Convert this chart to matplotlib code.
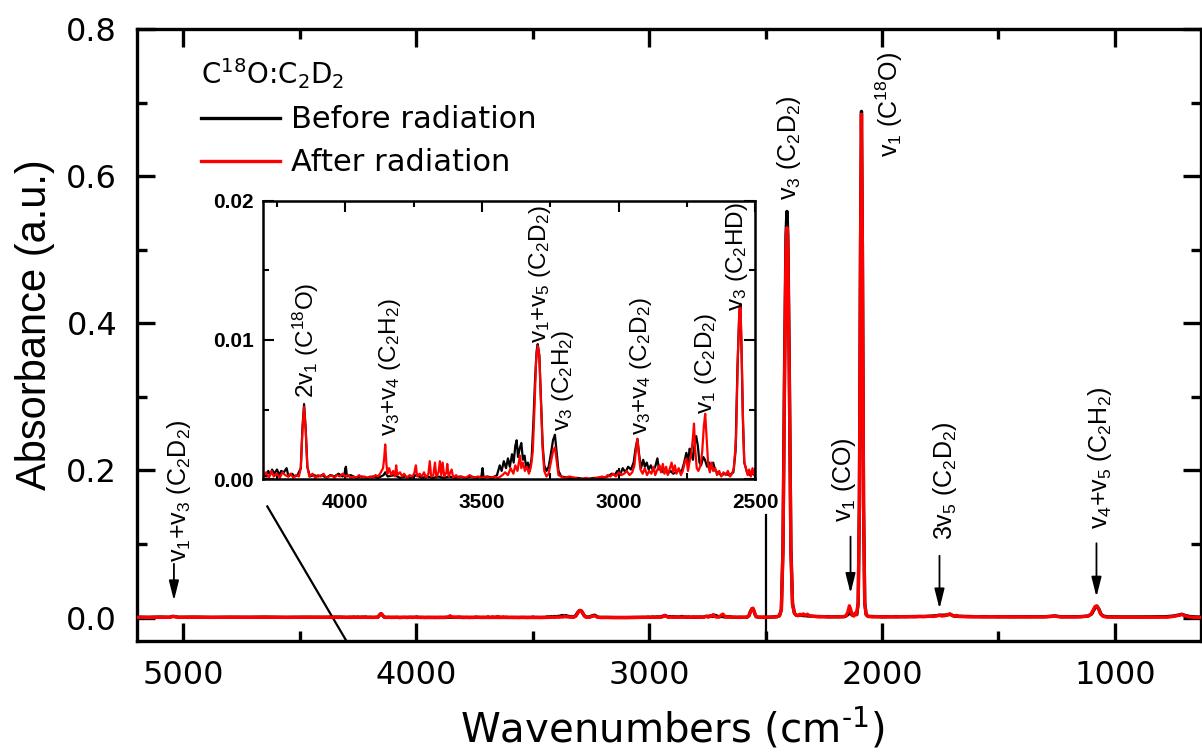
import matplotlib
matplotlib.use('Agg')
import matplotlib.pyplot as plt
from matplotlib.lines import Line2D

plt.rcParams['font.family'] = 'DejaVu Sans'
plt.rcParams['mathtext.default'] = 'regular'

# ---- spectra: (wavenumber cm-1, absorbance) ----
# before radiation (black)
before_high = [(5200, .0006), (5150, .0003), (5100, .0007), (5060, .0004), (5045, .0016),
               (5035, .0013), (5020, .0004), (4950, .0006), (4880, .0003), (4800, .0005),
               (4720, .0004), (4650, .0006), (4560, .0003), (4480, .0005), (4400, .0004),
               (4330, .0006)]
before_mid = [(4300, .0003), (4290, .0002), (4282, .0006), (4275, .0003), (4268, .0007),
              (4260, .0004), (4250, .0007), (4242, .0003), (4235, .0006), (4225, .0005),
              (4215, .0008), (4208, .0002), (4195, .0004), (4185, .0002), (4175, .0003),
              (4163, .0008), (4157, .0037), (4151, .0054), (4145, .0036), (4139, .0009),
              (4130, .0002), (4115, .0003), (4100, .0002), (4085, .0003), (4070, .0001),
              (4055, .0003), (4040, .0002), (4025, .0004), (4010, .0002), (4003, .0004),
              (3998, .0009), (3994, .0002), (3980, .0003), (3960, .0001), (3940, .0002),
              (3920, .0001), (3900, .0002), (3880, .0001), (3860, .0003), (3854, .0005),
              (3845, .0002), (3820, .0003), (3800, .0001), (3780, .0002), (3760, .0001),
              (3740, .0003), (3720, .0001), (3700, .0002), (3680, .0001), (3660, .0002),
              (3640, .0001), (3620, .0002), (3600, .0001), (3580, .0002), (3560, .0001),
              (3540, .0002), (3520, .0001), (3502, .0002), (3498, .0008), (3494, .0001),
              (3480, .0002), (3460, .0001), (3445, .0003), (3435, .0010), (3428, .0006),
              (3420, .0013), (3412, .0008), (3405, .0015), (3398, .0009), (3390, .0018),
              (3384, .0012), (3378, .0024), (3373, .0028), (3368, .0016), (3362, .0022),
              (3356, .0026), (3350, .0014), (3344, .0017), (3338, .0008), (3332, .0012),
              (3325, .0006), (3318, .0016), (3312, .0040), (3306, .0070), (3300, .0092),
              (3296, .0097), (3290, .0089), (3284, .0058), (3278, .0025), (3272, .0010),
              (3264, .0006), (3256, .0009), (3248, .0018), (3240, .0028), (3233, .0032),
              (3227, .0020), (3220, .0006), (3210, .0002), (3180, .0001), (3150, .0001),
              (3120, .0000), (3090, .0001), (3060, .0001), (3040, .0002), (3025, .0004),
              (3014, .0003), (3005, .0006), (2995, .0003), (2985, .0008), (2975, .0005),
              (2965, .0009), (2955, .0007), (2945, .0012), (2938, .0022), (2931, .0029),
              (2925, .0018), (2918, .0008), (2910, .0014), (2904, .0009), (2897, .0012),
              (2890, .0007), (2882, .0010), (2874, .0006), (2866, .0009), (2858, .0015),
              (2852, .0007), (2845, .0008), (2836, .0005), (2828, .0007), (2820, .0004),
              (2810, .0006), (2800, .0004), (2790, .0005), (2780, .0007), (2770, .0005),
              (2760, .0012), (2752, .0019), (2746, .0012), (2740, .0022), (2734, .0019),
              (2728, .0014), (2722, .0025), (2716, .0031), (2710, .0024), (2704, .0012),
              (2698, .0010), (2690, .0016), (2684, .0014), (2676, .0009), (2668, .0012),
              (2660, .0008), (2654, .0012), (2646, .0006), (2638, .0005), (2625, .0003),
              (2610, .0004), (2595, .0003), (2580, .0005), (2572, .0020), (2565, .0080),
              (2558, .0120), (2554, .0124), (2550, .0092), (2545, .0042), (2540, .0012),
              (2530, .0005), (2520, .0003), (2510, .0004), (2500, .0003)]
before_low = [(2490, .0005), (2470, .0007), (2450, .0012), (2440, .0026), (2432, .011),
              (2425, .095), (2418, .345), (2412, .52), (2408, .552), (2404, .52),
              (2398, .345), (2391, .095), (2384, .019), (2376, .006), (2368, .003),
              (2350, .003), (2330, .0025), (2310, .002), (2280, .0015), (2250, .0012),
              (2220, .001), (2190, .0011), (2160, .0012), (2146, .004), (2140, .008),
              (2134, .005), (2125, .003), (2114, .006), (2108, .004), (2102, .02),
              (2097, .152), (2092, .505), (2088, .688), (2084, .505), (2079, .152),
              (2074, .02), (2068, .004), (2060, .0016), (2000, .001), (1900, .0012),
              (1800, .0016), (1752, .003), (1718, .0035), (1708, .0045), (1690, .002),
              (1600, .0012), (1500, .001), (1400, .001), (1300, .0011), (1258, .0022),
              (1230, .001), (1150, .0012), (1115, .002), (1100, .0048), (1090, .0105),
              (1082, .0145), (1076, .0152), (1068, .011), (1060, .005), (1050, .002),
              (1030, .001), (950, .0008), (850, .0009), (780, .0012), (750, .002),
              (725, .0035), (712, .0045), (700, .003), (680, .0015), (650, .0008),
              (630, .0006)]

# after radiation (red)
after_high = [(5200, .0004), (5150, .0002), (5100, .0005), (5060, .0003), (5045, .0015),
              (5035, .0012), (5020, .0003), (4950, .0005), (4880, .0002), (4800, .0004),
              (4720, .0003), (4650, .0005), (4560, .0002), (4480, .0004), (4400, .0003),
              (4330, .0005)]
after_mid = [(4300, .0002), (4290, .0005), (4280, .0001), (4270, .0006), (4262, .0002),
             (4250, .0004), (4240, .0001), (4230, .0005), (4220, .0003), (4210, .0002),
             (4200, .0004), (4190, .0001), (4180, .0003), (4170, .0002), (4163, .0008),
             (4157, .0035), (4151, .0052), (4145, .0035), (4139, .0009), (4132, .0002),
             (4120, .0004), (4110, .0001), (4100, .0003), (4090, .0002), (4080, .0004),
             (4070, .0001), (4060, .0002), (4050, .0003), (4040, .0001), (4030, .0003),
             (4020, .0002), (4010, .0004), (4000, .0002), (3990, .0003), (3980, .0001),
             (3970, .0002), (3960, .0001), (3950, .0003), (3940, .0001), (3930, .0002),
             (3920, .0001), (3910, .0002), (3900, .0001), (3890, .0003), (3880, .0002),
             (3870, .0005), (3862, .0008), (3858, .0015), (3854, .0025), (3850, .0012),
             (3846, .0004), (3840, .0008), (3832, .0003), (3825, .0006), (3818, .0002),
             (3814, .0010), (3810, .0003), (3800, .0005), (3792, .0002), (3785, .0004),
             (3775, .0001), (3765, .0003), (3755, .0002), (3748, .0004), (3742, .0010),
             (3737, .0002), (3728, .0004), (3720, .0002), (3712, .0005), (3705, .0001),
             (3696, .0004), (3691, .0013), (3686, .0002), (3678, .0003), (3672, .0012),
             (3667, .0002), (3659, .0005), (3654, .0013), (3649, .0003), (3644, .0012),
             (3638, .0002), (3630, .0005), (3627, .0011), (3622, .0002), (3611, .0007),
             (3605, .0001), (3595, .0003), (3585, .0001), (3575, .0002), (3560, .0001),
             (3545, .0003), (3530, .0001), (3515, .0002), (3500, .0001), (3485, .0002),
             (3470, .0001), (3455, .0002), (3440, .0001), (3425, .0003), (3415, .0005),
             (3405, .0003), (3395, .0008), (3385, .0004), (3378, .0010), (3370, .0006),
             (3361, .0017), (3356, .0008), (3350, .0012), (3343, .0006), (3336, .0009),
             (3328, .0004), (3320, .0010), (3314, .0020), (3308, .0050), (3302, .0085),
             (3296, .0096), (3290, .0088), (3284, .0055), (3278, .0022), (3272, .0006),
             (3264, .0002), (3256, .0004), (3248, .0012), (3240, .0020), (3233, .0023),
             (3226, .0012), (3220, .0003), (3210, .0002), (3200, .0001), (3180, .0002),
             (3160, .0001), (3140, .0000), (3120, .0001), (3100, .0000), (3080, .0001),
             (3060, .0002), (3050, .0001), (3040, .0003), (3030, .0002), (3020, .0004),
             (3010, .0002), (3000, .0005), (2990, .0003), (2980, .0004), (2970, .0006),
             (2960, .0003), (2950, .0005), (2942, .0010), (2936, .0022), (2931, .0029),
             (2926, .0018), (2920, .0007), (2912, .0004), (2904, .0008), (2896, .0003),
             (2888, .0006), (2880, .0004), (2872, .0009), (2866, .0003), (2858, .0007),
             (2850, .0010), (2845, .0005), (2838, .0011), (2832, .0004), (2826, .0009),
             (2820, .0003), (2812, .0008), (2806, .0012), (2800, .0005), (2794, .0010),
             (2788, .0004), (2780, .0008), (2772, .0003), (2765, .0006), (2758, .0012),
             (2752, .0015), (2746, .0006), (2740, .0013), (2734, .0018), (2728, .0030),
             (2724, .0040), (2720, .0022), (2714, .0008), (2708, .0006), (2700, .0010),
             (2694, .0020), (2688, .0038), (2683, .0047), (2678, .0030), (2672, .0010),
             (2666, .0005), (2660, .0012), (2654, .0006), (2646, .0008), (2640, .0003),
             (2632, .0006), (2624, .0002), (2616, .0005), (2608, .0003), (2600, .0006),
             (2592, .0002), (2585, .0004), (2578, .0008), (2570, .0030), (2564, .0085),
             (2558, .0123), (2554, .0126), (2550, .0095), (2545, .0045), (2540, .0012),
             (2534, .0008), (2528, .0003), (2522, .0007), (2516, .0002), (2510, .0008),
             (2504, .0003), (2500, .0005)]
after_low = [(2490, .0004), (2475, .0006), (2460, .0008), (2450, .0012), (2440, .0025),
             (2432, .010), (2425, .09), (2418, .33), (2412, .50), (2408, .53),
             (2404, .50), (2398, .33), (2391, .09), (2384, .018), (2376, .006),
             (2368, .003), (2360, .0025), (2352, .0045), (2345, .003), (2338, .005),
             (2330, .003), (2320, .0045), (2310, .002), (2290, .0015), (2270, .001),
             (2250, .0012), (2230, .0008), (2210, .001), (2190, .0009), (2170, .0012),
             (2155, .002), (2146, .008), (2140, .016), (2135, .012), (2128, .003),
             (2120, .002), (2114, .006), (2109, .004), (2102, .02), (2097, .15),
             (2092, .50), (2088, .684), (2084, .50), (2079, .15), (2074, .02),
             (2068, .004), (2060, .0015), (2040, .001), (2020, .0012), (2000, .0008),
             (1980, .001), (1960, .0012), (1940, .0009), (1920, .0012), (1900, .001),
             (1880, .0013), (1860, .001), (1840, .0015), (1820, .0012), (1800, .0018),
             (1780, .0015), (1762, .0025), (1752, .0035), (1744, .002), (1730, .0025),
             (1718, .004), (1708, .005), (1700, .003), (1690, .002), (1680, .003),
             (1670, .0015), (1650, .0012), (1620, .001), (1590, .0012), (1560, .0009),
             (1530, .0012), (1500, .0009), (1470, .0011), (1440, .0008), (1410, .001),
             (1380, .0008), (1350, .001), (1320, .0009), (1290, .0011), (1268, .0015),
             (1258, .0025), (1250, .0015), (1230, .0008), (1200, .0009), (1170, .0008),
             (1140, .0012), (1115, .002), (1102, .005), (1092, .011), (1085, .015),
             (1078, .016), (1070, .012), (1062, .005), (1052, .002), (1040, .0008),
             (1010, .0005), (980, .0006), (950, .0004), (920, .0005), (890, .0003),
             (860, .0005), (830, .0004), (800, .0006), (775, .0005), (750, .0015),
             (725, .003), (712, .0042), (700, .0025), (685, .001), (660, .0004),
             (640, .0003), (630, .0002)]

# tick labels
main_xticks = [5000, 4000, 3000, 2000, 1000]
main_yticks = [0.0, 0.2, 0.4, 0.6, 0.8]
inset_xticks = [4000, 3500, 3000, 2500]
inset_yticks = [0.00, 0.01, 0.02]

# band labels: text, wavenumber, absorbance where text starts
main_notes = [('v$_1$+v$_3$ (C$_2$D$_2$)', 5017, 0.075),
              ('v$_3$ (C$_2$D$_2$)', 2401, 0.568),
              ('v$_1$ (C$^{18}$O)', 1967, 0.626),
              ('v$_1$ (CO)', 2161, 0.130),
              ('3v$_5$ (C$_2$D$_2$)', 1731, 0.106),
              ('v$_4$+v$_5$ (C$_2$H$_2$)', 1065, 0.120)]
# arrows: wavenumber, tail, tip
main_arrows = [(5040, 0.073, 0.023), (2135, 0.110, 0.033),
               (1753, 0.084, 0.012), (1079, 0.101, 0.028)]
inset_notes = [('2v$_1$ (C$^{18}$O)', 4144, 0.0058),
               ('v$_3$+v$_4$ (C$_2$H$_2$)', 3835, 0.0031),
               ('v$_1$+v$_5$ (C$_2$D$_2$)', 3289, 0.0098),
               ('v$_3$ (C$_2$H$_2$)', 3205, 0.0035),
               ('v$_3$+v$_4$ (C$_2$D$_2$)', 2919, 0.0032),
               ('v$_1$ (C$_2$D$_2$)', 2681, 0.0047),
               ('v$_3$ (C$_2$HD)', 2568, 0.0121)]

# zoom guide lines (main data coords)
guide_left = ([4639, 4300], [0.151, -0.0315])
guide_right = ([2500, 2500], [0.139, -0.0315])

wn_b, ab_b = zip(*(before_high + before_mid + before_low))
wn_a, ab_a = zip(*(after_high + after_mid + after_low))

fig = plt.figure(figsize=(12.02, 7.53), dpi=100)
ax = fig.add_axes([0.1137, 0.1491, 0.8855, 0.8124])

ax.plot(*guide_left, color='black', lw=1.6, zorder=2)
ax.plot(*guide_right, color='black', lw=1.6, zorder=2)
ax.plot(wn_b, ab_b, color='black', lw=2.4, zorder=3)
ax.plot(wn_a, ab_a, color='red', lw=2.4, zorder=4)

ax.set_xlim(5200, 630)
ax.set_ylim(-0.0315, 0.8)
ax.set_xticks(main_xticks)
ax.set_xticklabels([str(t) for t in main_xticks])
ax.set_xticks([4500, 3500, 2500, 1500], minor=True)
ax.set_yticks(main_yticks)
ax.set_yticklabels(['%.1f' % t for t in main_yticks])
ax.set_yticks([0.1, 0.3, 0.5, 0.7], minor=True)
ax.tick_params(which='both', direction='in', top=True, right=True, width=2.4)
ax.tick_params(which='major', length=13, labelsize=23, pad=14)
ax.tick_params(which='minor', length=7)
for s in ax.spines.values():
    s.set_linewidth(2.4)

for txt, x, y in main_notes:
    ax.text(x, y, txt, rotation=90, ha='center', va='bottom', fontsize=18,
            family='Liberation Sans', zorder=5)
for x, y0, y1 in main_arrows:
    ax.annotate('', xy=(x, y1), xytext=(x, y0),
                arrowprops=dict(arrowstyle='-|>,head_length=0.8,head_width=0.2',
                                color='black', lw=1.3, mutation_scale=15, shrinkA=0, shrinkB=0))

handles = [Line2D([], [], color='black', lw=2.4), Line2D([], [], color='red', lw=2.4)]
leg = ax.legend(handles, ['Before radiation', 'After radiation'], loc='upper left',
                bbox_to_anchor=(0.0545, 0.965), frameon=False, fontsize=22,
                title='C$^{18}$O:C$_2$D$_2$', title_fontsize=20, handlelength=2.6,
                handletextpad=0.35, labelspacing=0.46, borderpad=0.2, borderaxespad=0)
leg._legend_box.align = 'left'

fig.text(35 / 1202, 1 - 325 / 753, 'Absorbance (a.u.)', rotation=90, ha='center',
         va='center', fontsize=30, family='Liberation Sans')
fig.text(672 / 1202, 1 - 729 / 753, 'Wavenumbers (cm$^{\u20101}$)', ha='center',
         va='center', fontsize=29)

# inset
axin = fig.add_axes([0.2191, 0.3635, 0.4092, 0.37])
axin.plot(wn_b, ab_b, color='black', lw=1.6)
axin.plot(wn_a, ab_a, color='red', lw=1.6)
axin.set_xlim(4300, 2500)
axin.set_ylim(0, 0.02)
axin.set_xticks(inset_xticks)
axin.set_xticklabels([str(t) for t in inset_xticks], family='Liberation Sans',
                     fontweight='bold', fontsize=15)
axin.set_xticks([4250, 3750, 3250, 2750], minor=True)
axin.set_yticks(inset_yticks)
axin.set_yticklabels(['%.2f' % t for t in inset_yticks], family='Liberation Sans',
                     fontweight='bold', fontsize=15)
axin.set_yticks([0.005, 0.015], minor=True)
axin.tick_params(which='both', direction='in', top=True, right=True, width=1.5)
axin.tick_params(which='major', length=8)
axin.tick_params(which='minor', length=4.5)
axin.tick_params(axis='x', pad=10)
axin.tick_params(axis='y', pad=7)
for s in axin.spines.values():
    s.set_linewidth(1.8)
for txt, x, y in inset_notes:
    axin.text(x, y, txt, rotation=90, ha='center', va='bottom', fontsize=17.5,
              family='Liberation Sans')

fig.savefig('out.png', dpi=100)
